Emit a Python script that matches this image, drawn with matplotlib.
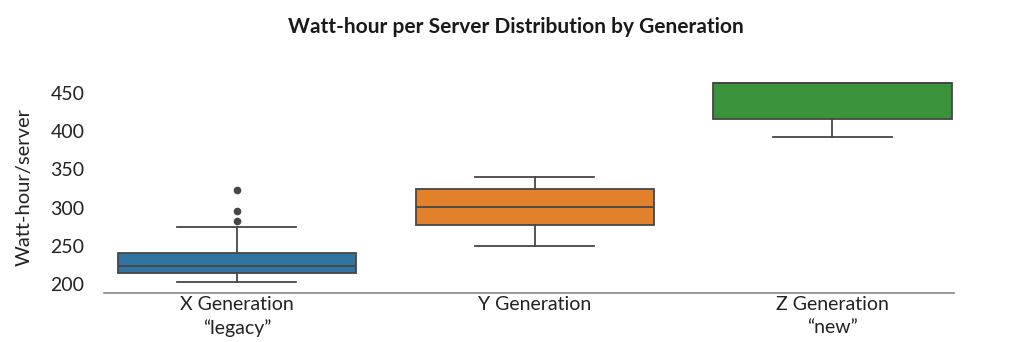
import matplotlib.pyplot as plt

plt.rcParams['font.family'] = ['Lato', 'DejaVu Sans']

# box summary per server generation (Wh/server)
generations = ["X Generation\n\u201clegacy\u201d", "Y Generation", "Z Generation\n\u201cnew\u201d"]
q1 = [214.8, 277.0, 416.0]
median = [223.6, 300.5, 463.0]
q3 = [240.2, 324.0, 463.0]
whisker_low = [202.0, 250.0, 393.0]
whisker_high = [275.0, 340.0, 463.0]
fliers = [[282.6, 295.7, 323.0], [], []]
colors = ["#3274a1", "#e1812c", "#3a923a"]

stats = []
for i in range(len(generations)):
    stats.append({
        "q1": q1[i], "med": median[i], "q3": q3[i],
        "whislo": whisker_low[i], "whishi": whisker_high[i],
        "fliers": fliers[i],
    })

fig = plt.figure(figsize=(10.24, 3.42), dpi=100)
ax = fig.add_axes([0.1016, 0.1433, 0.83, 0.618])

edge = "#474747"
bp = ax.bxp(stats, positions=range(len(generations)), widths=0.8,
            patch_artist=True, showcaps=True,
            boxprops=dict(edgecolor=edge, linewidth=1.3),
            medianprops=dict(color=edge, linewidth=1.3),
            whiskerprops=dict(color=edge, linewidth=1.3),
            capprops=dict(color=edge, linewidth=1.3),
            flierprops=dict(marker="o", markersize=4.5, markerfacecolor=edge,
                            markeredgecolor=edge))
for box, c in zip(bp["boxes"], colors):
    box.set_facecolor(c)
for cap in bp["caps"]:
    x0, x1 = cap.get_xdata()
    mid = (x0 + x1) / 2
    cap.set_xdata([mid - 0.2, mid + 0.2])

ax.set_xlim(-0.446, 2.408)
ax.set_ylim(188, 465)
ax.set_yticks([200, 250, 300, 350, 400, 450])
ax.set_xticks(range(len(generations)))
ax.set_xticklabels(generations, fontsize=14, color="#222222", linespacing=1.45)
ax.tick_params(axis="y", length=0, labelsize=14, colors="#222222", pad=14)
ax.tick_params(axis="x", length=0, colors="#222222", pad=2)

for side in ["top", "right", "left"]:
    ax.spines[side].set_visible(False)
ax.spines["bottom"].set_color("#888888")
ax.spines["bottom"].set_linewidth(1.2)

ax.set_ylabel("Watt-hour/server", fontsize=14.5, color="#222222", labelpad=13)
fig.text(0.504, 0.92, "Watt-hour per Server Distribution by Generation",
         ha="center", va="center", fontsize=15, fontweight="bold", color="#1a1a1a")

fig.savefig("out.png", dpi=100, facecolor="white")
